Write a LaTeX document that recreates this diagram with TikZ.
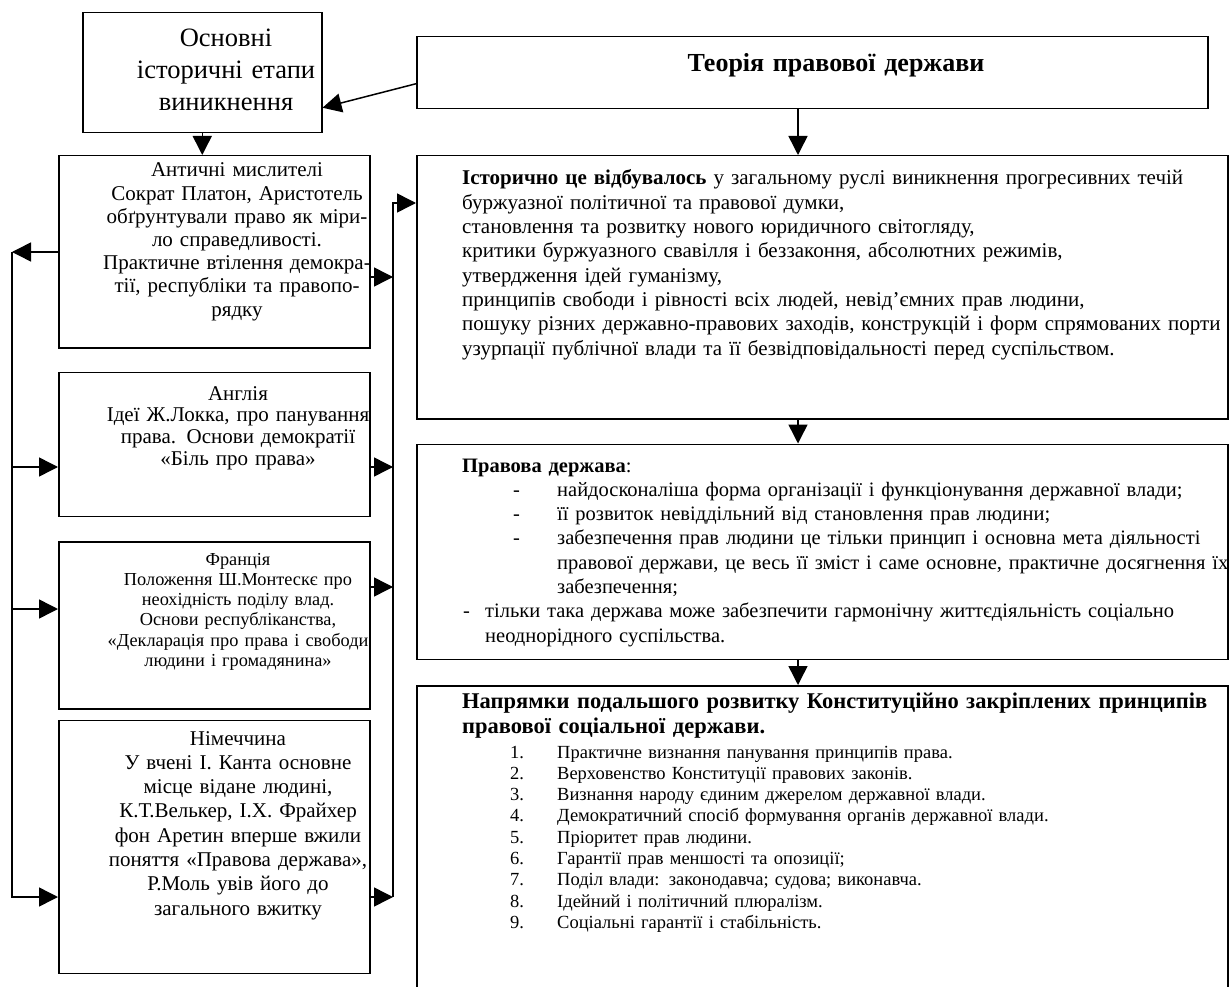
\documentclass[tikz,border=0pt]{standalone}
\usepackage{fontspec}
\setmainfont{Liberation Serif}
\usetikzlibrary{arrows.meta, positioning}

\begin{document}
\begin{tikzpicture}[
    x=1pt, y=-1pt,
    box/.style={rectangle, draw, line width=1.5pt, anchor=north west, inner sep=0pt},
    ctext/.style={anchor=base, align=center, inner sep=0pt, text width=340pt},
    ltext/.style={anchor=base west, align=left, inner sep=0pt, text width=800pt},
    arrow/.style={-{Triangle[length=19pt, width=19pt]}, line width=1.5pt},
]
    \useasboundingbox[fill=white] (0,0) rectangle (1232,987);

    % boxes
    \node[box, minimum width=239pt, minimum height=120pt] at (82,12) (stages) {};
    \node[box, minimum width=791pt, minimum height=72pt] at (416,36) (theory) {};
    \node[box, minimum width=311pt, minimum height=192pt] at (58,155) (antique) {};
    \node[box, minimum width=311pt, minimum height=144pt, below=23pt of antique] (england) {};
    \node[box, minimum width=311pt, minimum height=167pt, below=24pt of england] (france) {};
    \node[box, minimum width=311pt, minimum height=253pt, below=10pt of france] (germany) {};
    \node[box, minimum width=811pt, minimum height=263pt] at (416,155) (history) {};
    \node[box, minimum width=811pt, minimum height=215pt, below=24pt of history] (ruleoflaw) {};
    \node[box, minimum width=811pt, minimum height=330pt, below=25pt of ruleoflaw] (directions) {};

    % texts
    \node[ctext, font=\fontsize{26.5}{32}\selectfont] at (226,47) (stagestxt)
        {Основні\\історичні етапи\\виникнення};
    \node[ctext, text width=600pt, font=\fontsize{26}{29}\selectfont\bfseries] at (836,72) (theorytxt)
        {Теорія правової держави};
    \node[ctext, font=\fontsize{21}{23.2}\selectfont] at (237,177) (antiquetxt)
        {Античні мислителі\\Сократ Платон, Аристотель\\обґрунтували право як міри-\\ло справедливості.\\Практичне втілення демокра-\\тії, республіки та правопо-\\рядку};
    \node[ctext, font=\fontsize{21}{21.7}\selectfont] at (238,400) (englandtxt)
        {Англія\\Ідеї Ж.Локка, про панування\\права. Основи демократії\\«Біль про права»};
    \node[ctext, font=\fontsize{18.3}{20.3}\selectfont] at (238,565) (francetxt)
        {Франція\\Положення Ш.Монтескє про\\неохідність поділу влад.\\Основи республіканства,\\«Декларація про права і свободи\\людини і громадянина»};
    \node[ctext, font=\fontsize{21}{24.3}\selectfont] at (238,745) (germanytxt)
        {Німеччина\\У вчені І. Канта основне\\місце відане людині,\\К.Т.Велькер, І.Х. Фрайхер\\фон Аретин вперше вжили\\поняття «Правова держава»,\\Р.Моль увів його до\\загального вжитку};
    \node[ltext, font=\fontsize{21}{24.3}\selectfont] at (462,185) (historytxt)
        {\textbf{Історично це відбувалось} у загальному руслі виникнення прогресивних течій\\
         буржуазної політичної та правової думки,\\
         становлення та розвитку нового юридичного світогляду,\\
         критики буржуазного свавілля і беззаконня, абсолютних режимів,\\
         утвердження ідей гуманізму,\\
         принципів свободи і рівності всіх людей, невід’ємних прав людини,\\
         пошуку різних державно-правових заходів, конструкцій і форм спрямованих порти\\
         узурпації публічної влади та її безвідповідальності перед суспільством.};
    \node[ltext, font=\fontsize{20.5}{24.3}\selectfont] at (462,472) (ruleoflawtxt)
        {\textbf{Правова держава}:\\
         \hspace*{51pt}\makebox[44pt][l]{-}найдосконаліша форма організації і функціонування державної влади;\\
         \hspace*{51pt}\makebox[44pt][l]{-}її розвиток невіддільний від становлення прав людини;\\
         \hspace*{51pt}\makebox[44pt][l]{-}забезпечення прав людини це тільки принцип і основна мета діяльності\\
         \hspace*{95pt}правової держави, це весь її зміст і саме основне, практичне досягнення їх\\
         \hspace*{95pt}забезпечення;\\
         \hspace*{1pt}\makebox[22pt][l]{-}тільки така держава може забезпечити гармонічну життєдіяльність соціально\\
         \hspace*{23pt}неоднорідного суспільства.};
    \node[ltext, font=\fontsize{22.5}{25}\selectfont\bfseries] at (462,708) (directionshead)
        {Напрямки подальшого розвитку Конституційно закріплених принципів\\
         правової соціальної держави.};
    \node[ltext, font=\fontsize{18.5}{21.3}\selectfont] at (462,758) (directionstxt)
        {\hspace*{48pt}\makebox[47pt][l]{1.}Практичне визнання панування принципів права.\\
         \hspace*{48pt}\makebox[47pt][l]{2.}Верховенство Конституції правових законів.\\
         \hspace*{48pt}\makebox[47pt][l]{3.}Визнання народу єдиним джерелом державної влади.\\
         \hspace*{48pt}\makebox[47pt][l]{4.}Демократичний спосіб формування органів державної влади.\\
         \hspace*{48pt}\makebox[47pt][l]{5.}Пріоритет прав людини.\\
         \hspace*{48pt}\makebox[47pt][l]{6.}Гарантії прав меншості та опозиції;\\
         \hspace*{48pt}\makebox[47pt][l]{7.}Поділ влади: законодавча; судова; виконавча.\\
         \hspace*{48pt}\makebox[47pt][l]{8.}Ідейний і політичний плюралізм.\\
         \hspace*{48pt}\makebox[47pt][l]{9.}Соціальні гарантії і стабільність.};

    % bus coordinates
    \coordinate (axis) at (798,0);
    \coordinate (ltop) at (12,252);
    \coordinate (leng) at (12,467);
    \coordinate (lfra) at (12,609);
    \coordinate (lbot) at (12,897);
    \coordinate (rtop) at (393,203);
    \coordinate (rant) at (393,277);
    \coordinate (reng) at (393,467);
    \coordinate (rfra) at (393,587);
    \coordinate (rbot) at (393,897);

    % connectors
    \draw[arrow] ([yshift=-11pt]theory.west) -- ([yshift=-35pt]stages.east);
    \draw[arrow] (stages.south) -- (stages.south |- antique.north);
    \draw[arrow] (theory.south -| axis) -- (history.north -| axis);
    \draw[arrow] (history.south -| axis) -- (ruleoflaw.north -| axis);
    \draw[arrow] (ruleoflaw.south -| axis) -- (directions.north -| axis);

    \draw[arrow] (antique.west |- ltop) -- (ltop);
    \draw[arrow] (ltop) -- (lbot) -- (germany.west |- lbot);
    \draw[arrow] (leng) -- (england.west |- leng);
    \draw[arrow] (lfra) -- (france.west |- lfra);

    \draw[arrow] (rbot) -- (rtop) -- (history.west |- rtop);
    \draw[arrow] (antique.east |- rant) -- (rant);
    \draw[arrow] (england.east |- reng) -- (reng);
    \draw[arrow] (france.east |- rfra) -- (rfra);
    \draw[arrow] (germany.east |- rbot) -- (rbot);
\end{tikzpicture}
\end{document}
